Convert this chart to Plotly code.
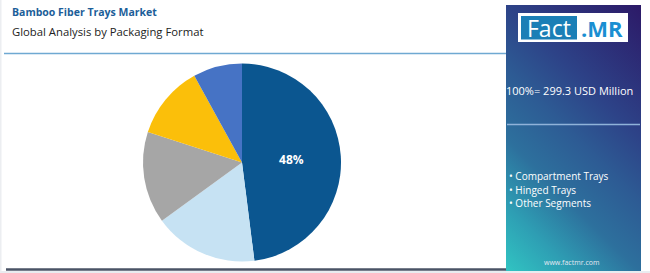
import base64
import plotly.graph_objects as go

# ---- data ----
segments = ["Compartment Trays", "Hinged Trays", "Other Segment A", "Other Segment B", "Other Segment C"]
shares = [48, 17, 15, 12, 8]
slice_colors = ["#0b5690", "#c6e2f3", "#a6a6a6", "#fbbf0a", "#4673c5"]
slice_labels = ["48%", "", "", "", ""]
legend_items = ["Compartment Trays", "Hinged Trays", "Other Segments"]
title_text = "Bamboo Fiber Trays Market"
subtitle_text = "Global Analysis by Packaging Format"
total_text = "100%= 299.3 USD Million"

W, H = 650, 273
FONT = "Open Sans"

def px(x):
    return x / W

def py(y):
    return 1 - y / H

fig = go.Figure()

# pie: centre (242,162.5), radius 99
cx, cy, r = 242, 162.5, 99
fig.add_trace(go.Pie(
    labels=segments, values=shares, sort=False, direction="clockwise", rotation=0,
    marker=dict(colors=slice_colors, line=dict(width=0)),
    text=slice_labels, texttemplate="%{text}", textposition="inside",
    insidetextfont=dict(color="white", size=12, family=FONT, weight="bold"),
    showlegend=False, hoverinfo="label+percent",
    domain=dict(x=[px(cx - r), px(cx + r)], y=[py(cy + r), py(cy - r)]),
))

# gradient panel as SVG image (45 degree gradient, bottom-left teal to top-right indigo)
svg = (
    '<svg xmlns="http://www.w3.org/2000/svg" width="135" height="266" viewBox="0 0 135 266" preserveAspectRatio="none">'
    '<defs><linearGradient id="g" gradientUnits="userSpaceOnUse" x1="0" y1="266" x2="266" y2="0">'
    '<stop offset="0" stop-color="#31c4c2"/>'
    '<stop offset="0.12" stop-color="#2e9fb4"/>'
    '<stop offset="0.25" stop-color="#2d709d"/>'
    '<stop offset="0.38" stop-color="#2d5b94"/>'
    '<stop offset="0.5" stop-color="#2d4388"/>'
    '<stop offset="0.75" stop-color="#2c1a68"/>'
    '</linearGradient></defs>'
    '<rect x="0" y="0" width="135" height="266" fill="url(#g)"/></svg>'
)
src = "data:image/svg+xml;base64," + base64.b64encode(svg.encode()).decode()
pan_x0, pan_x1, pan_y0, pan_y1 = 506, 641, 5, 271
fig.add_layout_image(dict(
    source=src, xref="paper", yref="paper", x=px(pan_x0), y=py(pan_y0),
    sizex=px(pan_x1) - px(pan_x0), sizey=py(pan_y0) - py(pan_y1),
    xanchor="left", yanchor="top", sizing="stretch", layer="below",
))

shapes = [
    # page border (left and bottom)
    dict(type="rect", xref="paper", yref="paper", x0=0, x1=px(1.5), y0=0, y1=1,
         fillcolor="#eceef1", line=dict(width=0), layer="below"),
    dict(type="rect", xref="paper", yref="paper", x0=0, x1=1, y0=0, y1=py(271),
         fillcolor="#e9ecf0", line=dict(width=0), layer="below"),
    # title underline
    dict(type="line", xref="paper", yref="paper", x0=px(4), x1=px(506), y0=py(53.5), y1=py(53.5),
         line=dict(color="#6fa9d2", width=1.5)),
    # bottom dark line
    dict(type="line", xref="paper", yref="paper", x0=px(6), x1=px(506), y0=py(269.5), y1=py(269.5),
         line=dict(color="#4a5366", width=2.5)),
    # panel divider
    dict(type="line", xref="paper", yref="paper", x0=px(507), x1=px(640), y0=py(124.5), y1=py(124.5),
         line=dict(color="#8fb2d9", width=1.5)),
    # logo white box
    dict(type="rect", xref="paper", yref="paper", x0=px(518), x1=px(628), y0=py(42), y1=py(13),
         fillcolor="white", line=dict(width=0)),
    dict(type="rect", xref="paper", yref="paper", x0=px(521), x1=px(577), y0=py(39.5), y1=py(16),
         fillcolor="#1b7fb6", line=dict(width=0)),
]
fig.update_layout(shapes=shapes)

ann = []
ann.append(dict(text=title_text, x=px(10), y=py(12), xanchor="left", yanchor="middle",
                font=dict(family=FONT, size=10.5, color="#1c5e99", weight="bold")))
ann.append(dict(text=subtitle_text, x=px(10), y=py(31), xanchor="left", yanchor="middle",
                font=dict(family=FONT, size=11.3, color="#222222")))
ann.append(dict(text="Fact", x=px(549), y=py(28), xanchor="center", yanchor="middle",
                font=dict(family=FONT, size=23, color="white")))
ann.append(dict(text=".MR", x=px(602), y=py(28), xanchor="center", yanchor="middle",
                font=dict(family=FONT, size=22, color="#1a8fd2", weight="bold")))
ann.append(dict(text=total_text, x=px(569), y=py(91), xanchor="center", yanchor="middle",
                font=dict(family=FONT, size=11, color="white")))
for i, item in enumerate(legend_items):
    ann.append(dict(text="• " + item, x=px(507), y=py(176 + 13.5 * i), xanchor="left", yanchor="middle",
                    font=dict(family=FONT, size=10, color="white")))
ann.append(dict(text="www.factmr.com", x=px(571), y=py(262), xanchor="center", yanchor="middle",
                font=dict(family=FONT, size=7, color="#e3e8f2")))
for a in ann:
    a.update(xref="paper", yref="paper", showarrow=False)
fig.update_layout(annotations=ann)

fig.update_layout(width=W, height=H, margin=dict(l=0, r=0, t=0, b=0),
                  paper_bgcolor="white", plot_bgcolor="white")

fig.write_html("out.html")
